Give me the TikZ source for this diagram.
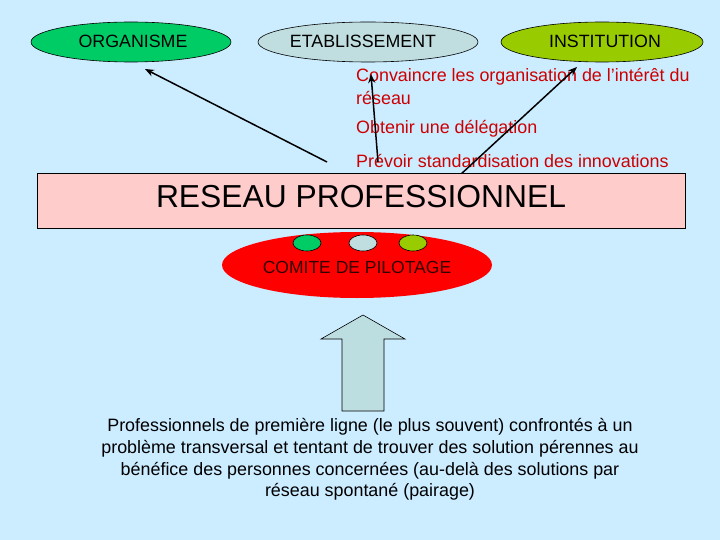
\documentclass[tikz,border=0pt]{standalone}
\usepackage{fontspec}
\setmainfont{Liberation Sans}
\usetikzlibrary{arrows.meta,shapes.geometric}
\definecolor{bg}{RGB}{204,236,255}
\definecolor{orggreen}{RGB}{0,204,102}
\definecolor{etabgray}{RGB}{192,222,224}
\definecolor{instgreen}{RGB}{153,204,0}
\definecolor{boxpink}{RGB}{255,204,204}
\definecolor{txtred}{RGB}{204,0,0}
\definecolor{arrowfill}{RGB}{188,222,224}
\tikzset{
  ell/.style={ellipse,draw=black,line width=0.6pt,inner sep=0pt},
  lbl/.style={font=\fontsize{17.8}{20}\selectfont},
  redtxt/.style={text=txtred,anchor=west,font=\fontsize{17.9}{20}\selectfont,inner sep=0pt},
  conn/.style={draw=black,line width=1.5pt,-{Stealth[length=9pt,width=7pt]}},
}
\begin{document}
\begin{tikzpicture}[x=1pt,y=-1pt]
\fill[bg] (0,0) rectangle (720,540);
\useasboundingbox (0,0) rectangle (720,540);
% top ellipses
\node[ell,fill=orggreen,minimum width=200pt,minimum height=40pt] (org) at (131,42) {};
\node[lbl] at (133,41) {ORGANISME};
\node[ell,fill=etabgray,minimum width=220pt,minimum height=40pt] (etab) at (368,42) {};
\node[lbl] at (363,41) {ETABLISSEMENT};
\node[ell,fill=instgreen,minimum width=202pt,minimum height=40pt] (inst) at (602,42) {};
\node[lbl] at (605,41) {INSTITUTION};
% red texts
\node[redtxt] (t1) at (356,77) {Convaincre les organisation de l’intérêt du};
\node[redtxt] (t2) at (356,98) {réseau};
\node[redtxt] (t3) at (356,129) {Obtenir une délégation};
\node[redtxt] (t4) at (356,161) {Prévoir standardisation des innovations};
% arrows
\coordinate (s1) at (327,162);
\coordinate (e1) at (145,69);
\coordinate (s2) at (378,162);
\coordinate (e2) at (371,74);
\coordinate (s3) at (460,175);
\coordinate (e3) at (577,67);
\draw[conn] (s1) -- (e1);
\draw[conn] (s2) -- (e2);
\draw[conn] (s3) -- (e3);
% main box
\node[draw=black,fill=boxpink,line width=0.8pt,minimum width=648pt,minimum height=55pt,inner sep=0pt] (reseau) at (361,200.5) {};
\node[font=\fontsize{31.8}{34}\selectfont] (rtxt) at (361,197) {RESEAU PROFESSIONNEL};
% comite
\node[ellipse,fill=red,minimum width=270pt,minimum height=66pt,inner sep=0pt] (comite) at (357,265) {};
\node[font=\fontsize{17.5}{20}\selectfont,text=black!80!red] (ctxt) at (357,267) {COMITE DE PILOTAGE};
\node[ell,fill=orggreen,minimum width=28pt,minimum height=16pt] (c1) at (307,243) {};
\node[ell,fill=etabgray,minimum width=28pt,minimum height=16pt] (c2) at (363,243) {};
\node[ell,fill=instgreen,minimum width=28pt,minimum height=16pt] (c3) at (413,243) {};
% big up arrow
\filldraw[fill=arrowfill,draw=black,line width=0.6pt]
  (342,411) -- (342,339) -- (321,339) -- (363,315) -- (405,339) -- (384,339) -- (384,411) -- cycle;
% bottom text
\node[align=center,font=\fontsize{17.9}{21.7}\selectfont] (bottom) at (370,459.5)
  {Professionnels de première ligne (le plus souvent) confrontés à un\\
   problème transversal et tentant de trouver des solution pérennes au\\
   bénéfice des personnes concernées (au-delà des solutions par\\
   réseau spontané (pairage)};
\end{tikzpicture}
\end{document}
